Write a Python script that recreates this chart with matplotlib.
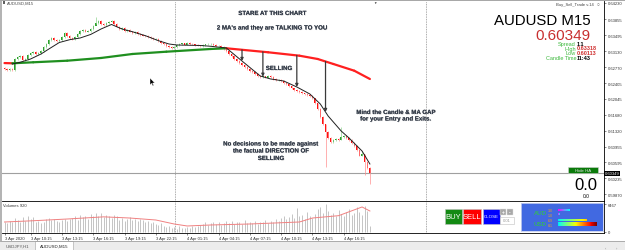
import numpy as np
import matplotlib.pyplot as plt
import matplotlib.patheffects as pe
from matplotlib.patches import Rectangle, Polygon

plt.rcParams['font.family'] = ['Liberation Sans', 'DejaVu Sans']

# ---- data ----
closes = [
    0.62725, 0.62702, 0.62725, 0.62702, 0.62953, 0.62998, 0.63021, 0.62930, 0.62953, 0.63044,
    0.63089, 0.63112, 0.63067, 0.63089, 0.63135, 0.63226, 0.63295, 0.63386, 0.63431, 0.63386,
    0.63363, 0.63386, 0.63454, 0.63546, 0.63477, 0.63431, 0.63409, 0.63454, 0.63523, 0.63591,
    0.63614, 0.63569, 0.63591, 0.63637, 0.63705, 0.63774, 0.63819, 0.63751, 0.63728, 0.63774,
    0.63797, 0.63819, 0.63751, 0.63683, 0.63637, 0.63660, 0.63591, 0.63614, 0.63569, 0.63546,
    0.63569, 0.63523, 0.63500, 0.63488, 0.63477, 0.63454, 0.63431, 0.63409, 0.63420, 0.63363,
    0.63317, 0.63295, 0.63249, 0.63226, 0.63203, 0.63226, 0.63272, 0.63295, 0.63310, 0.63280,
    0.63317, 0.63295, 0.63285, 0.63272, 0.63260, 0.63249, 0.63272, 0.63285, 0.63295, 0.63300,
    0.63272, 0.63240, 0.63249, 0.63226, 0.63181, 0.63135, 0.63067, 0.63021, 0.62953, 0.62907,
    0.62862, 0.62816, 0.62771, 0.62725, 0.62679, 0.62657, 0.62611, 0.62565, 0.62543, 0.62560,
    0.62530, 0.62565, 0.62543, 0.62497, 0.62474, 0.62480, 0.62451, 0.62406, 0.62383, 0.62337,
    0.62291, 0.62246, 0.62223, 0.62200, 0.62177, 0.62155, 0.62132, 0.62109, 0.62063, 0.61949,
    0.61813, 0.61631, 0.61471, 0.61289, 0.61152, 0.61061, 0.61106, 0.61129, 0.61106, 0.61175,
    0.61197, 0.61152, 0.61106, 0.61038, 0.60969, 0.60878, 0.60750, 0.60780, 0.60605, 0.60468,
    0.60349,
]
first_open = 0.62748
long_wicks = {4: (0.62970, 0.62680), 35: (0.63911, 0.63740), 123: (0.61480, 0.60491),
              129: (0.61402, 0.61100), 137: (0.60855, 0.60740), 138: (0.60780, 0.60310),
              140: (0.60480, 0.60113)}

volumes = [
    2300, 2000, 2600, 2200, 3200, 2800, 2400,
    3400, 2600, 3600, 3000, 3500,
    2200, 2600, 2000, 2400, 2900, 3300,
    2700, 3100, 2500, 2200, 2800, 3000, 2600, 2900,
    3200, 3600, 2800, 3900, 3400, 3700, 3000, 4100, 3600,
    4300, 3800, 4400, 3500, 4000, 3600,
    3300, 3900, 3600, 2800, 3200, 2600, 3000, 3400, 2700, 3100, 2500, 2900,
    2700, 2300, 2600, 2000, 2300, 1800, 1600, 2000, 1400, 1200, 1500, 900,
    1100, 800, 1300, 1000, 900, 1200, 1000, 1400, 1100, 1300, 1600,
    1800, 2200, 1600, 2000, 2400, 1900, 2300, 1700, 2100, 2600, 2000, 2500, 1800, 2200, 2400,
    1900, 2700, 2100, 2300, 2000, 2600, 1900, 2400, 2200, 2800, 2100, 2500, 2300, 2900, 2600,
    3200, 3800, 2900, 3500, 4100, 3300, 5600, 3600, 4000, 3100, 4600, 3700, 3300, 4200, 5200,
    5800, 4300, 6400, 4900, 3900, 4500, 3600, 5000, 4200, 3800, 4600, 5300, 4000, 4400, 5700,
    4700, 3900, 6100, 4800, 1400,
]

slow_ma_bars = [0, 3, 11, 24, 37, 49, 62, 79, 85, 101, 113, 120, 126, 134, 140]
slow_ma_vals = [0.62860, 0.62855, 0.62878, 0.62914, 0.62976, 0.63067, 0.63119, 0.63181,
                0.63197, 0.63106, 0.63028, 0.62953, 0.62839, 0.62686, 0.62497]

fast_ma_bars = [3, 6, 10, 14, 17, 21, 25, 29, 33, 37, 41, 45, 49, 54, 59, 63, 66, 75, 79,
                85, 91, 98, 102, 107, 112, 117, 121, 124, 129, 132, 137, 140]
fast_ma_vals = [0.62839, 0.62878, 0.62953, 0.63067, 0.63181, 0.63329, 0.63393, 0.63432,
                0.63512, 0.63637, 0.63740, 0.63637, 0.63575, 0.63484, 0.63370, 0.63295,
                0.63272, 0.63261, 0.63243, 0.63204, 0.62907, 0.62565, 0.62497, 0.62451,
                0.62315, 0.62155, 0.61927, 0.61653, 0.61311, 0.61152, 0.60855, 0.60559]

vol_ma_bars = [0, 11, 24, 38, 48, 58, 65, 70, 79, 94, 113, 118, 128, 137, 140]
vol_ma_vals = [2310, 2600, 3000, 3500, 3230, 2770, 1850, 1390, 1620, 1850, 2310, 3230,
               3770, 5780, 4850]

price_ticks = [0.64230, 0.63855, 0.63495, 0.63130, 0.62770, 0.62405, 0.62045,
               0.61680, 0.61320, 0.60955, 0.60595, 0.60235, 0.59870]
time_tick_bars = [0, 10, 22, 34, 46, 58, 70, 82, 94, 106, 118, 130]
time_tick_labels = ['3 Apr 2020', '3 Apr 10:15', '3 Apr 13:15', '3 Apr 16:15',
                    '3 Apr 19:15', '3 Apr 22:15', '4 Apr 01:15', '4 Apr 04:15',
                    '4 Apr 07:15', '4 Apr 10:15', '4 Apr 13:15', '4 Apr 16:15']
separator_bars = [65.5, 161.5]
arrow_bars = [91, 99, 112, 123]
last_price = 0.60349
day_high = 0.63318
day_low = 0.60113
vol_max = 6467

W, H = 625, 251


def fx(x):
    return x / W


def fy(y):
    return 1 - y / H


fig = plt.figure(figsize=(W / 100, H / 100), dpi=100)
fig.patch.set_facecolor('white')

# window chrome
fig.patches.append(Rectangle((0, 0), fx(2), 1, transform=fig.transFigure,
                             facecolor='#b4b4b4', edgecolor='none'))
fig.patches.append(Rectangle((0, fy(1.5)), 1, 1.5 / H, transform=fig.transFigure,
                             facecolor='#a8a8a8', edgecolor='none'))
fig.patches.append(Rectangle((0, 0), 1, fy(241.5), transform=fig.transFigure,
                             facecolor='#ececec', edgecolor='none'))
fig.add_artist(plt.Line2D([0, 1], [fy(241.5)] * 2, transform=fig.transFigure,
                          color='#a0a0a0', lw=0.6))

# ---- main price chart ----
ax = fig.add_axes([fx(2), fy(201.5), 602 / W, 199.5 / H])
ax.set_xlim(-0.96, 229.7)
ax.set_ylim(0.59727, 0.64275)
ax.set_facecolor('white')
for s in ['left', 'top']:
    ax.spines[s].set_visible(False)
for s in ['right', 'bottom']:
    ax.spines[s].set_color('black')
    ax.spines[s].set_linewidth(0.6)

idx = np.arange(len(closes))
c = np.array(closes)
o = np.array([first_open] + closes[:-1])
up = c >= o
top = np.maximum(o, c)
bot = np.minimum(o, c)
highs = top + 0.00012
lows = bot - 0.00012
for k, (hi, lo) in long_wicks.items():
    highs[k] = hi
    lows[k] = lo

for sep in separator_bars:
    ax.axvline(sep, color='#909090', ls=(0, (1, 1)), lw=0.6)
ax.axhline(last_price, color='#a0a0a0', lw=0.8)

ax.vlines(idx[up], lows[up], highs[up], color='#8fd48f', lw=0.5)
ax.vlines(idx[~up], lows[~up], highs[~up], color='#ff9090', lw=0.5)
ax.bar(idx[up], np.maximum(top - bot, 0.00010)[up], bottom=bot[up], width=0.55,
       color='#2ea02e', linewidth=0)
ax.bar(idx[~up], np.maximum(top - bot, 0.00010)[~up], bottom=bot[~up], width=0.55,
       color='#ff1010', linewidth=0)

# slow MA: green while rising, red while falling
for k in range(len(slow_ma_bars) - 1):
    col = '#1f8f1f' if slow_ma_vals[k + 1] >= slow_ma_vals[k] else '#ff2020'
    ax.plot(slow_ma_bars[k:k + 2], slow_ma_vals[k:k + 2], color=col, lw=1.6,
            solid_capstyle='round')
ax.plot(fast_ma_bars, fast_ma_vals, color='#202020', lw=0.7)

# arrows from the slow MA down to the fast MA
for b in arrow_bars:
    y0 = np.interp(b, slow_ma_bars, slow_ma_vals)
    y1 = np.interp(b, fast_ma_bars, fast_ma_vals)
    ax.annotate('', xy=(b, y1), xytext=(b, y0),
                arrowprops=dict(arrowstyle='-|>', color='#3a3a3a', lw=0.9,
                                mutation_scale=4, shrinkA=0, shrinkB=0))

ax.set_xticks([])
ax.yaxis.tick_right()
ax.set_yticks(price_ticks)
ax.set_yticklabels([f'{p:.5f}' for p in price_ticks])
ax.tick_params(axis='y', length=1.5, width=0.4, labelsize=3, pad=1, colors='#333333')
ax.text(1.0015, last_price, f'{last_price:.5f}', transform=ax.get_yaxis_transform(),
        ha='left', va='center', fontsize=3, color='white',
        bbox=dict(facecolor='black', edgecolor='none', pad=0.5))

# ---- volume panel ----
axv = fig.add_axes([fx(2), fy(234), 602 / W, 31.5 / H])
axv.set_xlim(-0.96, 229.7)
axv.set_ylim(-231, 7045)
for s in ['left', 'top']:
    axv.spines[s].set_visible(False)
for s in ['right', 'bottom']:
    axv.spines[s].set_color('black')
    axv.spines[s].set_linewidth(0.6)
for sep in separator_bars:
    axv.axvline(sep, color='#909090', ls=(0, (1, 1)), lw=0.6)
axv.vlines(idx, 0, volumes, color='#c4c4c4', lw=0.7)
axv.plot(vol_ma_bars, vol_ma_vals, color='#f08080', lw=0.7)
axv.yaxis.tick_right()
axv.set_yticks([vol_max, 0])
axv.set_yticklabels([str(vol_max), '0'])
axv.tick_params(axis='y', length=1.5, width=0.4, labelsize=3, pad=1, colors='#333333')
axv.set_xticks(time_tick_bars)
axv.set_xticklabels(time_tick_labels)
axv.tick_params(axis='x', length=1.5, width=0.4, labelsize=3, pad=1, colors='#333333')
for lbl in axv.get_xticklabels():
    lbl.set_ha('left')
axv.text(0.002, 0.9, 'Volumes 920', transform=axv.transAxes, fontsize=3,
         color='#333333', va='center')

# ---- annotations ----
shadow = [pe.withSimplePatchShadow(offset=(0.4, -0.4), shadow_rgbFace='#a0a0a0', alpha=0.5),
          pe.Normal()]
note = dict(ha='center', va='center', fontsize=4.4, fontweight='bold',
            color='#353d4a', path_effects=shadow)
fig.text(fx(272), fy(14.5), 'STARE AT THIS CHART', **note)
fig.text(fx(272), fy(29), "2 MA's and they are TALKING TO YOU", **note)
fig.text(fx(279), fy(69.5), 'SELLING', **note)
fig.text(fx(396), fy(113.5), 'Mind the Candle & MA GAP', **note)
fig.text(fx(396), fy(120), 'for your Entry and Exits.', **note)
fig.text(fx(271), fy(145), 'No decisions to be made against', **note)
fig.text(fx(271), fy(152), 'the factual DIRECTION OF', **note)
fig.text(fx(271), fy(159.5), 'SELLING', **note)

# header texts
fig.patches.append(Rectangle((fx(2.5), fy(5)), 3 / W, 3 / H, transform=fig.transFigure,
                             facecolor='#606060', edgecolor='none'))
fig.text(fx(7), fy(3.8), 'AUDUSD,M15', fontsize=3, color='#444444', va='center')
fig.text(fx(594), fy(5), 'Buy_Sell_Trade v.14', fontsize=3, color='#444444',
         va='center', ha='right')
fig.text(fx(598), fy(5), '\u25cb', fontsize=3.5, color='#555555', va='center', ha='center')
fig.text(fx(375), fy(2.5), '\u25bc', fontsize=2.5, color='#333333', va='center', ha='center')

# info block
fig.text(fx(591), fy(21), 'AUDUSD M15', fontsize=10.8, color='black', ha='right', va='center')
fig.text(fx(591), fy(36.5), f'{last_price:.5f}', fontsize=11, color='#c83030',
         ha='right', va='center')
info = [('Spread', '1.1', 'black', 44.3), ('High', f'{day_high:.5f}', '#d03030', 49),
        ('Low', f'{day_low:.5f}', '#d03030', 53.7), ('Candle Time', '11:43', 'black', 59)]
for lab, val, vcol, yy in info:
    fig.text(fx(576), fy(yy), lab, fontsize=4, color='#3cb83c', ha='right', va='center')
    fig.text(fx(576.5), fy(yy), val, fontsize=4, color=vcol, ha='left', va='center',
             fontweight='bold')

# Hide HA button and 0.0 readouts
fig.patches.append(Rectangle((fx(568), fy(174)), 30 / W, 6 / H, transform=fig.transFigure,
                             facecolor='#0a7a0a', edgecolor='#d0d0d0', lw=0.4))
fig.text(fx(583), fy(171), 'Hide HA', fontsize=3.2, color='#e0e0e0', ha='center', va='center')
fig.text(fx(597), fy(185), '0.0', fontsize=12, color='black', ha='right', va='center')
fig.text(fx(586.5), fy(196.5), '0.0', fontsize=3.5, color='black', ha='center', va='center')

# trade buttons
buttons = [('BUY', 445, 17, '#138a13', 5.5), ('SELL', 463, 18, '#ff0000', 5.5),
           ('CLOSE', 482.5, 17, '#0000ff', 3.2)]
for txt, x0, w, col, fs in buttons:
    fig.patches.append(Rectangle((fx(x0), fy(225)), w / W, 15 / H,
                                 transform=fig.transFigure, facecolor=col,
                                 edgecolor='#c0c0c0', lw=0.4))
    fig.text(fx(x0 + w / 2), fy(217.5), txt, fontsize=fs, color='white',
             ha='center', va='center')
for txt, x0 in [('+', 500), ('-', 507)]:
    fig.patches.append(Rectangle((fx(x0), fy(215.5)), 6 / W, 5.5 / H,
                                 transform=fig.transFigure, facecolor='#a8a8a8',
                                 edgecolor='#e0e0e0', lw=0.3))
    fig.text(fx(x0 + 3), fy(212.8), txt, fontsize=3.5, color='white',
             ha='center', va='center', fontweight='bold')
fig.patches.append(Rectangle((fx(500), fy(225)), 14 / W, 7.5 / H,
                             transform=fig.transFigure, facecolor='white',
                             edgecolor='#c0c0c0', lw=0.4))
fig.text(fx(507), fy(221.3), '0.01', fontsize=3, color='#999999', ha='center', va='center')

# currency strength panel
axc = fig.add_axes([fx(521), fy(232), 82 / W, 28 / H])
axc.set_facecolor('#4169e1')
axc.set_xticks([])
axc.set_yticks([])
for s in axc.spines.values():
    s.set_color('#c8d0f0')
    s.set_linewidth(0.6)
grad = np.linspace(0, 1, 64).reshape(1, -1)
axc.text(26, 9.5, 'AUD', fontsize=4.5, color='#30d030', ha='right', va='center')
axc.text(27, 7, '3.0', fontsize=2.6, color='#f0a020', va='center')
axc.text(27, 12, '1.0', fontsize=2.6, color='#f0a020', va='center')
axc.imshow(grad, extent=(37, 49, 8, 6), cmap='cool_r', aspect='auto')
axc.imshow(grad, extent=(37, 39, 12.5, 11), cmap='cool_r', aspect='auto')
axc.text(26, 21, 'USD', fontsize=4.5, color='#30d030', ha='right', va='center')
axc.text(27, 17.5, '6.9', fontsize=2.6, color='#f0a020', va='center')
axc.text(27, 22.5, '8.1', fontsize=2.6, color='#f0a020', va='center')
axc.imshow(np.linspace(0.35, 0.7, 64).reshape(1, -1), extent=(37, 66, 18, 16),
           cmap='jet', vmin=0, vmax=1, aspect='auto')
axc.imshow(np.linspace(0.35, 1.0, 64).reshape(1, -1), extent=(37, 76, 23.5, 20),
           cmap='jet', vmin=0, vmax=1, aspect='auto')
axc.set_xlim(0, 82)
axc.set_ylim(28, 0)

# mouse cursor
cur = [(150, 79), (150, 86), (151.6, 84.4), (152.8, 87), (153.8, 86.5),
       (152.6, 84), (154.8, 84)]
fig.patches.append(Polygon([(fx(a), fy(b)) for a, b in cur], closed=True,
                           transform=fig.transFigure, facecolor='black',
                           edgecolor='white', lw=0.3))

# tabs
fig.text(fx(17.5), fy(246.5), 'USDJPY,H1', fontsize=3.2, color='#555555',
         ha='center', va='center')
fig.patches.append(Rectangle((fx(35), fy(250.5)), 38 / W, 9 / H, transform=fig.transFigure,
                             facecolor='white', edgecolor='#a0a0a0', lw=0.4))
fig.text(fx(54), fy(246.5), 'AUDUSD,M15', fontsize=3.2, color='#222222',
         ha='center', va='center')
fig.text(fx(606), fy(248.5), '\u2039', fontsize=3, color='#888888', ha='center', va='center')
fig.text(fx(616), fy(248.5), '\u203a', fontsize=3, color='#888888', ha='center', va='center')

fig.savefig('out.png', dpi=100)
